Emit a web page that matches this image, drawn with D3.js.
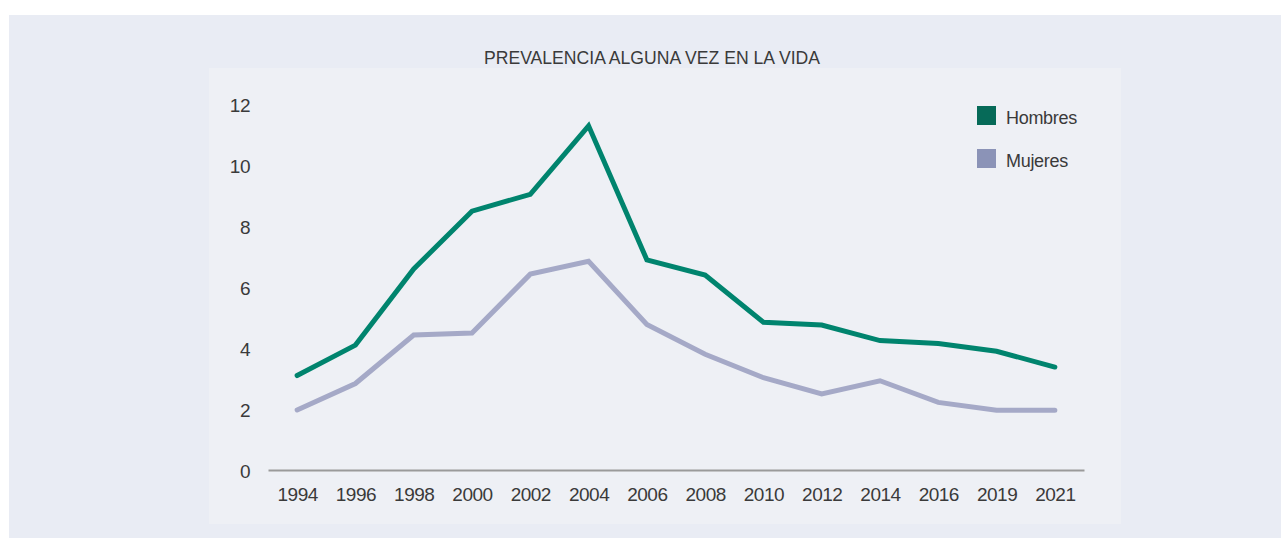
<!DOCTYPE html>
<html>
<head>
<meta charset="utf-8">
<script src="https://cdn.jsdelivr.net/npm/d3@7"></script>
<style>
  body { margin: 0; background: #fff; }
  svg text { font-family: "Liberation Sans", Arial, Helvetica, sans-serif; fill: #3a3a3a; }
</style>
</head>
<body>
<svg id="chart" width="1281" height="538"></svg>
<script>
var years = ["1994", "1996", "1998", "2000", "2002", "2004", "2006", "2008", "2010", "2012", "2014", "2016", "2019", "2021"]
var hombres = [3.1, 4.1, 6.6, 8.5, 9.05, 11.3, 6.9, 6.4, 4.85, 4.76, 4.25, 4.15, 3.9, 3.38]
var mujeres = [1.97, 2.84, 4.43, 4.5, 6.43, 6.85, 4.78, 3.8, 3.03, 2.5, 2.93, 2.22, 1.96, 1.96]
var yTicks = [0, 2, 4, 6, 8, 10, 12]
var seriesNames = ["Hombres", "Mujeres"]

var svg = d3.select("#chart")

// background panels
svg.append("rect").attr("x", 9).attr("y", 15).attr("width", 1272).attr("height", 523).attr("fill", "#e9ecf4")
svg.append("rect").attr("x", 209).attr("y", 68).attr("width", 912).attr("height", 456).attr("fill", "#eef0f5")

svg.append("text")
    .attr("x", 652).attr("y", 64)
    .attr("text-anchor", "middle")
    .style("font-size", "17.6px")
    .text("PREVALENCIA ALGUNA VEZ EN LA VIDA")

var x = d3.scalePoint()
    .domain(years)
    .range([268, 1084])
    .padding(0.5)

var y = d3.scaleLinear()
    .domain([0, 12])
    .range([470, 104.5])

// y axis
var yAxis = svg.append("g")
    .attr("transform", "translate(268,0)")
    .call(d3.axisLeft(y).tickValues(yTicks).tickSize(0).tickPadding(18))
yAxis.select(".domain").remove()
yAxis.selectAll("text")
    .style("font-size", "19px")
    .style("letter-spacing", "-0.5px")
    .style("font-family", null)
    .attr("fill", "#3a3a3a")
    .attr("dy", "0.37em")

// x axis
var xAxis = svg.append("g")
    .attr("transform", "translate(0,470)")
    .call(d3.axisBottom(x).tickSize(0).tickSizeOuter(0).tickPadding(17.5))
xAxis.select(".domain").attr("stroke", "#9a9a9a").attr("stroke-width", 2)
xAxis.selectAll("text")
    .style("font-size", "19px")
    .style("letter-spacing", "-0.5px")
    .style("font-family", null)
    .attr("fill", "#3a3a3a")

var line = d3.line()
    .x((d, i) => x(years[i]))
    .y(d => y(d))

var z = d3.scaleOrdinal()
    .domain(seriesNames)
    .range(["#00846e", "#a5a9c7"])
var legendColor = d3.scaleOrdinal()
    .domain(seriesNames)
    .range(["#066a58", "#8b93b7"])

var data = [{ name: "Mujeres", values: mujeres }, { name: "Hombres", values: hombres }]

svg.selectAll("path.series")
    .data(data)
    .enter().append("path")
    .attr("class", "series")
    .attr("fill", "none")
    .attr("stroke", d => z(d.name))
    .attr("stroke-width", 5)
    .attr("stroke-linecap", "round")
    .attr("stroke-linejoin", "miter")
    .attr("d", d => line(d.values))

// legend
var legend = svg.selectAll("g.legend")
    .data(seriesNames)
    .enter().append("g")
    .attr("class", "legend")
    .attr("transform", (d, i) => `translate(977,${106 + i * 43})`)

legend.append("rect")
    .attr("width", 19).attr("height", 19)
    .attr("fill", d => legendColor(d))

legend.append("text")
    .attr("x", 29).attr("y", 18)
    .style("font-size", "18px")
    .style("letter-spacing", "-0.3px")
    .text(d => d)
</script>
</body>
</html>
